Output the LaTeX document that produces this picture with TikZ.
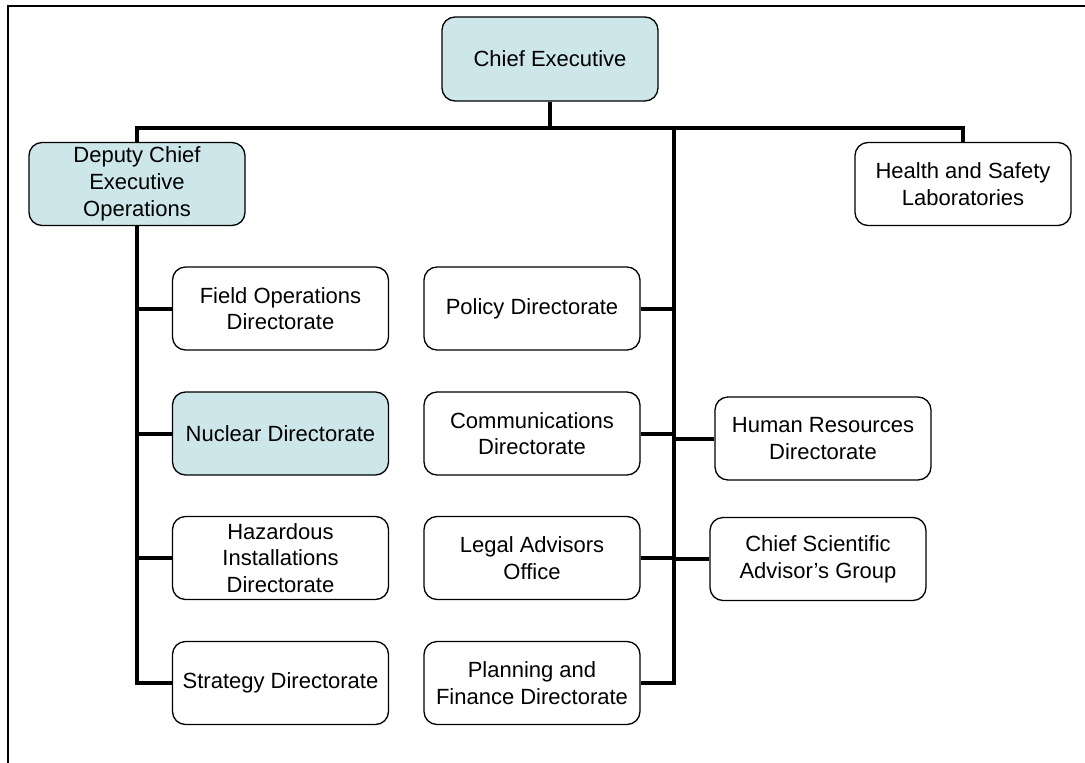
\documentclass[tikz,border=0pt]{standalone}
\usepackage{fontspec}
\setmainfont{Liberation Sans}
\usepackage{xcolor}
\definecolor{Black}{RGB}{0,0,0}
\definecolor{White}{RGB}{255,255,255}
\definecolor{Blue}{RGB}{204,230,234}
\usepackage{tikz}

\begin{document}
\begin{tikzpicture}[x=1pt, y=-1pt,
		unit/.style={draw=Black, fill=White, rounded corners=13pt, line width=1.3pt, minimum width=216pt, minimum height=83pt, inner sep=0pt, align=center, font=\fontsize{22}{26.7}\selectfont},
		head/.style={unit, fill=Blue},
		link/.style={draw=Black, line width=4pt}]
		
		\useasboundingbox (0,0) rectangle (1085,763);
		
		% Frame
		\draw[draw=Black, line width=2pt] (8,763) -- (8,6) -- (1085,6);
		
		% Blocks
		\node[head] (chief) at (550,59) [minimum height=84pt] {Chief Executive};
		\node[head] (deputy) at (137,184) {Deputy Chief\\Executive\\Operations};
		\node[unit] (hsl) at (963,184) {Health and Safety\\Laboratories};
		
		\node[unit] (field) at (280.5,308.5) {Field Operations\\Directorate};
		\node[head] (nuclear) at (280.5,433.5) {Nuclear Directorate};
		\node[unit] (hazard) at (280.5,558) {Hazardous\\Installations\\Directorate};
		\node[unit] (strategy) at (280.5,683) {Strategy Directorate};
		
		\node[unit] (policy) at (532,308.5) {Policy Directorate};
		\node[unit] (comms) at (532,433.5) {Communications\\Directorate};
		\node[unit] (legal) at (532,558) {Legal Advisors\\Office};
		\node[unit] (planning) at (532,683) {Planning and\\Finance Directorate};
		
		\node[unit] (hr) at (823,438.5) {Human Resources\\Directorate};
		\node[unit] (csa) at (818,559) {Chief Scientific\\Advisor’s Group};
		
		% Bus
		\coordinate (bus) at (550,128);
		\coordinate (spine) at (674,128);
		\draw[link] (chief.south) -- (chief.south |- bus);
		\draw[link] (deputy.north) -- (deputy.north |- bus) -- (hsl.north |- bus) -- (hsl.north);
		
		% Operations
		\draw[link] (deputy.south) |- (strategy.west);
		\draw[link] (deputy.south |- field.west) -- (field.west);
		\draw[link] (deputy.south |- nuclear.west) -- (nuclear.west);
		\draw[link] (deputy.south |- hazard.west) -- (hazard.west);
		
		% Directorates
		\draw[link] (spine) |- (planning.east);
		\draw[link] (policy.east) -- (spine |- policy.east);
		\draw[link] (comms.east) -- (spine |- comms.east);
		\draw[link] (legal.east) -- (spine |- legal.east);
		\draw[link] (hr.west) -- (spine |- hr.west);
		\draw[link] (csa.west) -- (spine |- csa.west);
		
	\end{tikzpicture}
\end{document}
